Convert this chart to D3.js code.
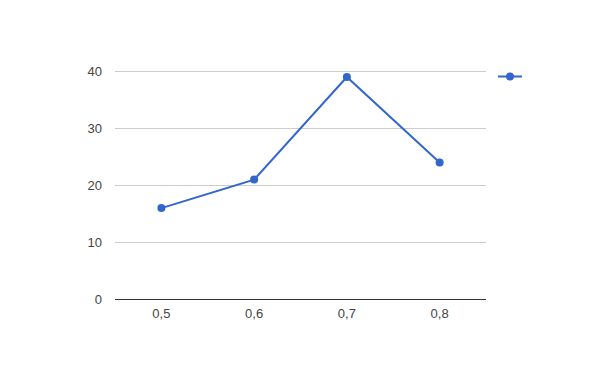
<!DOCTYPE html>
<html>
<head>
<meta charset="utf-8">
<script src="https://cdn.jsdelivr.net/npm/d3@7"></script>
<style>
  html, body { margin: 0; padding: 0; background: #fff; }
  #chart { width: 600px; height: 371px; }
</style>
</head>
<body>
<div id="chart"></div>
<script>
var categories = ['0,5', '0,6', '0,7', '0,8'];
var values = [16, 21, 39, 24];
var yTicks = [0, 10, 20, 30, 40];

(function() {
  var w = 600, h = 371;
  var FONT = 'Liberation Sans, Arial, sans-serif';
  var COLOR = '#3366cc';
  var left = 115, right = 486, top = 71.3, bottom = 299.3;

  var svg = d3.select('#chart').append('svg').attr('width', w).attr('height', h);

  var x = d3.scaleBand().domain(categories).range([left, right]);
  var y = d3.scaleLinear().domain([0, 40]).range([bottom, top]);

  // gridlines
  svg.append('g').selectAll('line').data(yTicks.filter(function(d) { return d > 0; })).join('line')
    .attr('x1', left).attr('x2', right)
    .attr('y1', function(d) { return Math.round(y(d)) + 0.5; })
    .attr('y2', function(d) { return Math.round(y(d)) + 0.5; })
    .attr('stroke', '#cccccc').attr('stroke-width', 1);

  // y labels
  svg.append('g').selectAll('text').data(yTicks).join('text')
    .attr('x', 102).attr('y', function(d) { return y(d); })
    .attr('dy', '0.35em').attr('text-anchor', 'end')
    .attr('fill', '#444').attr('font-size', '13px').attr('font-family', FONT)
    .text(function(d) { return d; });

  // x labels
  svg.append('g').selectAll('text').data(categories).join('text')
    .attr('x', function(d) { return x(d) + x.bandwidth() / 2; }).attr('y', 318)
    .attr('text-anchor', 'middle')
    .attr('fill', '#444').attr('font-size', '13px').attr('font-family', FONT)
    .text(function(d) { return d; });

  // baseline
  svg.append('line').attr('x1', left).attr('x2', right)
    .attr('y1', Math.round(y(0)) + 0.5).attr('y2', Math.round(y(0)) + 0.5)
    .attr('stroke', '#333').attr('stroke-width', 1);

  var pts = categories.map(function(c, i) { return { c: c, v: values[i] }; });
  var line = d3.line()
    .x(function(d) { return x(d.c) + x.bandwidth() / 2; })
    .y(function(d) { return y(d.v); });

  svg.append('path').datum(pts).attr('d', line)
    .attr('fill', 'none').attr('stroke', COLOR).attr('stroke-width', 2);

  svg.append('g').selectAll('circle').data(pts).join('circle')
    .attr('cx', function(d) { return x(d.c) + x.bandwidth() / 2; })
    .attr('cy', function(d) { return y(d.v); })
    .attr('r', 4).attr('fill', COLOR);

  // legend
  var lg = svg.append('g').attr('transform', 'translate(498,76.5)');
  lg.append('line').attr('x1', 0).attr('x2', 24).attr('stroke', COLOR).attr('stroke-width', 2);
  lg.append('circle').attr('cx', 12).attr('cy', 0).attr('r', 4).attr('fill', COLOR);
})();
</script>
</body>
</html>
